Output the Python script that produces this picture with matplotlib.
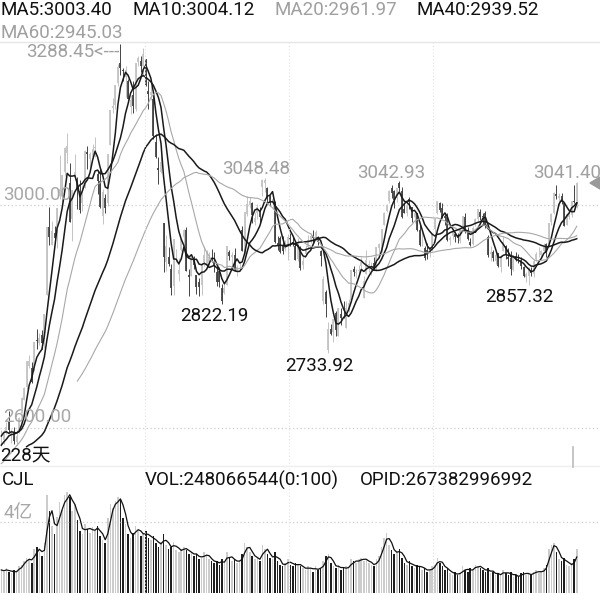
import numpy as np
import pandas as pd
import matplotlib
matplotlib.use('Agg')
import matplotlib.pyplot as plt
from matplotlib.lines import Line2D
from matplotlib.patches import Polygon

plt.rcParams['font.family'] = ['Roboto', 'Noto Sans CJK SC']

# closes before the visible window (only feed the moving averages)
pre_close = [2594, 2602, 2634, 2594, 2598, 2577, 2550, 2536, 2516, 2527,
             2505, 2498, 2483, 2494, 2465, 2464, 2515, 2533, 2526, 2544,
             2535, 2554, 2536, 2570, 2570, 2560, 2596, 2611, 2580]

close = [2581, 2592, 2602, 2597, 2594, 2576, 2585, 2618, 2654, 2672,
         2721, 2720, 2682, 2754, 2756, 2761, 2752, 2804, 2961, 2942,
         2954, 2941, 2994, 3028, 3054, 3102, 3106, 2970, 3027, 3060,
         3027, 2991, 3022, 3096, 3091, 3091, 3101, 3104, 3043, 2997,
         3023, 2995, 3091, 3170, 3177, 3216, 3247, 3245, 3240, 3242,
         3190, 3189, 3178, 3254, 3263, 3250, 3271, 3215, 3199, 3202,
         3124, 3086, 3063, 3078, 2906, 2926, 2894, 2851, 2939, 2904,
         2884, 2939, 2956, 2882, 2871, 2906, 2892, 2853, 2853, 2892,
         2910, 2915, 2906, 2899, 2890, 2862, 2861, 2828, 2852, 2926,
         2909, 2911, 2882, 2888, 2890, 2918, 2987, 3002, 3008, 2982,
         2976, 2997, 2979, 3045, 3044, 3015, 3005, 3011, 2933, 2928,
         2915, 2918, 2931, 2942, 2938, 2932, 2901, 2924, 2887, 2900,
         2923, 2937, 2945, 2941, 2952, 2933, 2909, 2868, 2822, 2778,
         2769, 2795, 2775, 2815, 2797, 2809, 2816, 2824, 2883, 2880,
         2880, 2883, 2897, 2864, 2902, 2894, 2891, 2886, 2924, 2930,
         2957, 2986, 3000, 3025, 3021, 3009, 3031, 3031, 2978, 2985,
         2999, 3006, 2977, 2985, 2955, 2929, 2932, 2905, 2914, 2925,
         2948, 2974, 3008, 2991, 2979, 2977, 2938, 2940, 2954, 2942,
         2941, 2955, 2980, 2954, 2939, 2929, 2958, 2975, 2992, 2979,
         2979, 2964, 2910, 2915, 2905, 2910, 2891, 2909, 2934, 2911,
         2904, 2885, 2906, 2906, 2903, 2890, 2872, 2876, 2885, 2878,
         2899, 2912, 2914, 2917, 2924, 2916, 2968, 2984, 3022, 3017,
         3017, 3005, 2963, 2983, 2982, 3007, 3005, 3040.02]

open_ = [2580, 2578, 2591, 2610, 2593, 2591, 2574, 2594, 2626, 2651,
         2673, 2712, 2707, 2703, 2758, 2752, 2767, 2751, 2838, 2961,
         2929, 2950, 2950, 3016, 3016, 3060, 3094, 3039, 2974, 3050,
         3047, 3025, 3003, 3031, 3095, 3082, 3086, 3103, 3055, 3043,
         2980, 3013, 3003, 3107, 3174, 3180, 3219, 3254, 3243, 3230,
         3223, 3176, 3197, 3172, 3257, 3258, 3249, 3262, 3205, 3197,
         3190, 3113, 3066, 3059, 2967, 2897, 2906, 2886, 2854, 2901,
         2876, 2919, 2943, 2955, 2875, 2873, 2904, 2874, 2862, 2856,
         2898, 2893, 2897, 2905, 2898, 2880, 2881, 2852, 2842, 2856,
         2915, 2906, 2911, 2882, 2890, 2956, 2913, 2983, 3000, 3004,
         2970, 2986, 2990, 3032, 3039, 3030, 3016, 3004, 3006, 2932,
         2940, 2927, 2921, 2930, 2941, 2933, 2926, 2903, 2925, 2892,
         2912, 2925, 2933, 2945, 2940, 2939, 2917, 2827, 2844, 2740,
         2778, 2773, 2807, 2765, 2804, 2810, 2780, 2812, 2829, 2885,
         2878, 2882, 2891, 2834, 2877, 2893, 2891, 2896, 2882, 2923,
         2921, 2965, 2990, 3007, 3031, 3026, 3012, 3040, 3026, 2993,
         2986, 3010, 2996, 2978, 2985, 2956, 2932, 2922, 2920, 2919,
         2925, 2957, 2986, 3004, 2994, 2980, 2978, 2938, 2945, 2948,
         2946, 2935, 2958, 2978, 2955, 2934, 2930, 2966, 2975, 2987,
         2980, 2986, 2943, 2912, 2915, 2900, 2914, 2888, 2918, 2927,
         2907, 2905, 2884, 2908, 2904, 2902, 2888, 2871, 2873, 2884,
         2876, 2904, 2914, 2910, 2918, 2930, 2930, 2969, 2985, 3019,
         3013, 3016, 3004, 2965, 2979, 2982, 3007, 3007]

high = [2597, 2596, 2611, 2630, 2599, 2601, 2597, 2619, 2655, 2673,
        2721, 2731, 2718, 2754, 2777, 2770, 2775, 2805, 2961, 2997,
        2972, 2963, 2994, 3090, 3054, 3104, 3129, 3075, 3027, 3091,
        3050, 3045, 3035, 3098, 3106, 3095, 3110, 3122, 3062, 3064,
        3028, 3019, 3091, 3170, 3192, 3216, 3253, 3288.45, 3246, 3250,
        3226, 3198, 3222, 3255, 3268, 3268, 3281, 3262, 3222, 3213,
        3196, 3127, 3087, 3089, 2967, 2947, 2924, 2894, 2939, 2921,
        2905, 2940, 2957, 2960, 2885, 2909, 2909, 2874, 2869, 2896,
        2926, 2919, 2916, 2921, 2916, 2891, 2888, 2859, 2860, 2926,
        2920, 2915, 2922, 2893, 2900, 2963, 2988, 3016, 3014, 3005,
        2988, 3001, 2996, 3047, 3048.48, 3032, 3018, 3013, 3007, 2944,
        2945, 2944, 2938, 2948, 2950, 2943, 2931, 2941, 2926, 2908,
        2929, 2946, 2949, 2955, 2955, 2945, 2920, 2872, 2848, 2790,
        2786, 2795, 2810, 2816, 2815, 2828, 2827, 2832, 2883, 2891,
        2885, 2892, 2907, 2872, 2919, 2902, 2898, 2907, 2924, 2931,
        2957, 2987, 3002, 3027, 3036, 3027, 3031, 3042.93, 3033, 3004,
        3002, 3015, 2996, 2987, 2986, 2965, 2951, 2926, 2931, 2925,
        2949, 2976, 3008, 3005, 3003, 2985, 2986, 2945, 2957, 2952,
        2950, 2956, 2980, 2985, 2961, 2941, 2962, 2976, 2992, 2992,
        2985, 2989, 2946, 2926, 2919, 2917, 2914, 2910, 2944, 2928,
        2922, 2917, 2907, 2915, 2912, 2907, 2891, 2879, 2888, 2888,
        2903, 2915, 2924, 2920, 2931, 2931, 2968, 2986, 3023, 3036,
        3022, 3022, 3004, 2986, 2993, 3007, 3036, 3041.40]

low = [2568, 2571, 2589, 2592, 2573, 2571, 2570, 2591, 2626, 2651,
       2670, 2707, 2681, 2703, 2742, 2748, 2742, 2743, 2838, 2929,
       2928, 2932, 2923, 3011, 3001, 3052, 3075, 2969, 2936, 3045,
       2993, 2986, 2990, 3030, 3064, 3065, 3085, 3087, 3019, 2995,
       2966, 2985, 2998, 3107, 3165, 3173, 3213, 3234, 3223, 3194,
       3190, 3164, 3165, 3168, 3249, 3239, 3232, 3214, 3173, 3189,
       3119, 3085, 3038, 3057, 2879, 2882, 2891, 2838, 2838, 2897,
       2863, 2917, 2927, 2882, 2837, 2873, 2885, 2841, 2837, 2838,
       2891, 2890, 2890, 2898, 2879, 2855, 2853, 2822.19, 2840, 2856,
       2901, 2893, 2881, 2873, 2881, 2917, 2913, 2980, 2995, 2967,
       2965, 2974, 2970, 3017, 3024, 3004, 2998, 2994, 2932, 2920,
       2914, 2913, 2917, 2902, 2927, 2927, 2901, 2900, 2883, 2885,
       2910, 2921, 2931, 2932, 2937, 2928, 2890, 2823, 2799, 2733.92,
       2766, 2754, 2765, 2765, 2785, 2798, 2780, 2808, 2829, 2872,
       2869, 2872, 2887, 2833, 2876, 2880, 2875, 2884, 2882, 2914,
       2915, 2965, 2988, 3003, 3013, 2995, 3005, 3025, 2977, 2985,
       2980, 2992, 2969, 2967, 2953, 2927, 2927, 2901, 2904, 2906,
       2918, 2945, 2984, 2988, 2976, 2965, 2936, 2929, 2939, 2933,
       2931, 2931, 2957, 2950, 2937, 2926, 2929, 2963, 2972, 2973,
       2966, 2958, 2907, 2899, 2900, 2895, 2888, 2880, 2918, 2903,
       2890, 2874, 2882, 2899, 2896, 2885, 2871, 2862, 2857.32, 2872,
       2870, 2899, 2906, 2906, 2915, 2906, 2925, 2965, 2983, 3011,
       3000, 3001, 2962, 2964, 2974, 2978, 3004, 2995]

# volume in 亿 (1e8)
volume = [1.3, 1.2, 1.4, 1.2, 1.1, 1.3, 1.2, 1.5,
          1.6, 1.8, 2.0, 1.9, 1.7,
          2.5, 2.6, 2.3, 2.1, 2.8,
          5.5, 4.6, 3.8, 3.3, 4.3, 5.1, 4.7,
          5.5, 5.7, 5.4, 4.6, 5.0, 4.1,
          3.5, 3.3, 3.9, 3.6, 3.4, 3.7, 3.5, 3.8, 3.2,
          3.0, 2.8, 4.2, 5.0, 4.8, 5.2, 5.4, 5.3, 4.2, 3.9,
          3.3, 3.1, 3.4, 3.8, 3.5, 3.2, 3.3, 3.5, 3.1, 3.0,
          3.2, 2.8, 2.6, 2.9, 3.3, 2.7,
          2.5, 2.6, 2.9, 2.4, 2.3, 2.5, 2.6,
          2.4, 2.2, 2.3, 2.1, 2.2, 1.9,
          2.0, 2.3, 2.1, 1.9, 1.8, 1.7, 1.8, 1.6, 1.9, 1.7, 2.3,
          2.0, 1.8, 1.9, 1.7, 1.8, 2.2, 2.8, 2.6, 2.3,
          2.1, 1.9, 2.0, 1.8, 2.7, 2.5, 2.2,
          2.0, 1.9, 2.3, 1.8, 1.6, 1.5, 1.7, 1.9, 1.6, 1.5, 1.7, 1.6, 1.5,
          1.4, 1.3, 1.5, 1.4, 1.2, 1.5, 1.3, 1.4,
          1.8, 2.1, 2.2, 1.7,
          1.5, 1.4, 1.6, 1.3, 1.4, 1.5, 1.4, 1.9,
          1.8, 1.7, 1.9, 2.0, 1.8, 1.9, 1.7, 1.6, 1.5, 1.9,
          2.1, 2.6, 3.1, 3.4,
          2.7, 2.4, 2.2, 2.3, 2.5,
          2.0, 1.7, 1.6, 1.8, 1.5, 1.4, 1.6, 1.5, 1.3, 1.4,
          1.2, 1.3, 1.5, 1.6, 2.0, 1.7,
          1.5, 1.3, 1.4, 1.1, 1.0, 1.2, 1.0, 1.1,
          1.5, 1.3, 1.2, 1.4, 1.3, 1.6, 1.5, 1.4,
          1.3, 1.2, 1.4, 1.1, 1.2, 1.0, 1.1, 1.0, 1.3, 1.1, 1.0, 1.2,
          0.9, 1.0, 0.9, 1.1, 1.2, 1.0, 1.1, 1.0, 1.2, 1.3, 1.1, 1.2,
          1.4, 1.6, 2.5, 2.7, 2.8,
          2.3, 1.9, 1.8, 2.0, 1.6, 1.5, 1.7, 1.9,
          2.48]

ma_periods = [5, 10, 20, 40, 60]
ma_colors = ['#1a1a1a', '#1a1a1a', '#a8a8a8', '#1a1a1a', '#a8a8a8']
ma_widths = [1.1, 1.1, 0.8, 1.1, 0.8]

header = [('MA5:3003.40', 0, 10, '#111111'), ('MA10:3004.12', 132, 10, '#111111'),
          ('MA20:2961.97', 274, 10, '#a0a0a0'), ('MA40:2939.52', 416, 10, '#111111'),
          ('MA60:2945.03', 0, 33, '#a0a0a0')]

W, H = 600, 595
STEP = 2.535   # pixels per bar
X0 = 1.3       # pixel of first bar

n = len(close)
x = np.arange(n)
o = np.array(open_, float)
c = np.array(close, float)
h = np.array(high, float)
l = np.array(low, float)
v = np.array(volume, float)
up = c >= o

all_close = pd.Series(pre_close + close, dtype=float)
mas = [all_close.rolling(p).mean().values[len(pre_close):] for p in ma_periods]
vol_ma = pd.Series(v).rolling(3, min_periods=1).mean().values

fig = plt.figure(figsize=(W / 100, H / 100), dpi=100)
fig.patch.set_facecolor('white')


def fy(py):
    return 1 - py / H


def ftxt(px, py, s, color='#111111', ha='left', size=13.5):
    fig.text(px / W, fy(py), s, color=color, ha=ha, va='center', fontsize=size)


def fline(x1, y1, x2, y2, color='#dddddd', lw=0.8, ls='-'):
    fig.add_artist(Line2D([x1 / W, x2 / W], [fy(y1), fy(y2)], color=color, lw=lw, ls=ls))


xlim = (-X0 / STEP, (W - X0) / STEP)

# price panel
ax = fig.add_axes([0, fy(465), 1, (465 - 42) / H])
ax.set_xlim(*xlim)
ax.set_ylim(2533.6, 3292.4)
ax.axis('off')
for lvl in (3000, 2600):
    ax.axhline(lvl, color='#cfcfcf', lw=0.9, ls=(0, (1, 2)))

up_col, dn_col = '#c4c4c4', '#444444'
cols = np.where(up, up_col, dn_col)
ax.vlines(x, l, h, colors=cols, lw=0.7, zorder=2)
ax.vlines(x, np.minimum(o, c), np.maximum(o, c), colors=cols, lw=1.3, zorder=2)

for m, col, lw in zip(mas, ma_colors, ma_widths):
    ax.plot(x, m, color=col, lw=lw, zorder=3)

# volume panel
axv = fig.add_axes([0, fy(593), 1, (593 - 470) / H])
axv.set_xlim(*xlim)
axv.set_ylim(0, 6.93)
axv.axis('off')
axv.axhline(4, color='#cfcfcf', lw=0.9, ls=(0, (1, 2)))
axv.bar(x, v, width=0.62, color=np.where(up, '#cccccc', '#1e1e1e'), linewidth=0)
axv.plot(x, vol_ma, color='#111111', lw=0.9)

# grid / separators
for gx in (145, 289, 433):
    fline(gx, 42, gx, 595, color='#e2e2e2', lw=0.8, ls=(0, (1, 2)))
fline(0, 42, 600, 42, color='#e6e6e6', lw=1.0)
fline(0, 466, 600, 466, color='#eeeeee', lw=1.0)
fline(573, 447, 573, 467, color='#bbbbbb', lw=1.2)

# texts
for s, px, py, col in header:
    ftxt(px, py, s, col)

i_hi = int(np.argmax(h))
ftxt(X0 + STEP * i_hi - 1, 52, '%.2f<---' % h[i_hi], '#a0a0a0', ha='right')
ftxt(3, 195, '3000.00', '#a8a8a8')
ftxt(3, 417, '2600.00', '#a8a8a8')
ftxt(256, 169, '3048.48', '#a0a0a0', ha='center')
ftxt(391, 173, '3042.93', '#a0a0a0', ha='center')
ftxt(533, 173, '3041.40', '#a0a0a0')
ftxt(214, 316, '2822.19', '#111111', ha='center')
ftxt(319, 366, '2733.92', '#111111', ha='center')
ftxt(519, 297, '2857.32', '#111111', ha='center')
ftxt(0, 455, '228天', '#111111')
fig.add_artist(Polygon([[590 / W, fy(183)], [600 / W, fy(177)], [600 / W, fy(189)]],
                       closed=True, color='#9a9a9a', transform=fig.transFigure))

ftxt(2, 480, 'CJL', '#111111')
ftxt(145, 480, 'VOL:248066544(0:100)', '#111111')
ftxt(360, 480, 'OPID:267382996992', '#111111')
ftxt(4, 513, '4亿', '#a8a8a8')

fig.savefig('out.png', dpi=100, facecolor='white')
